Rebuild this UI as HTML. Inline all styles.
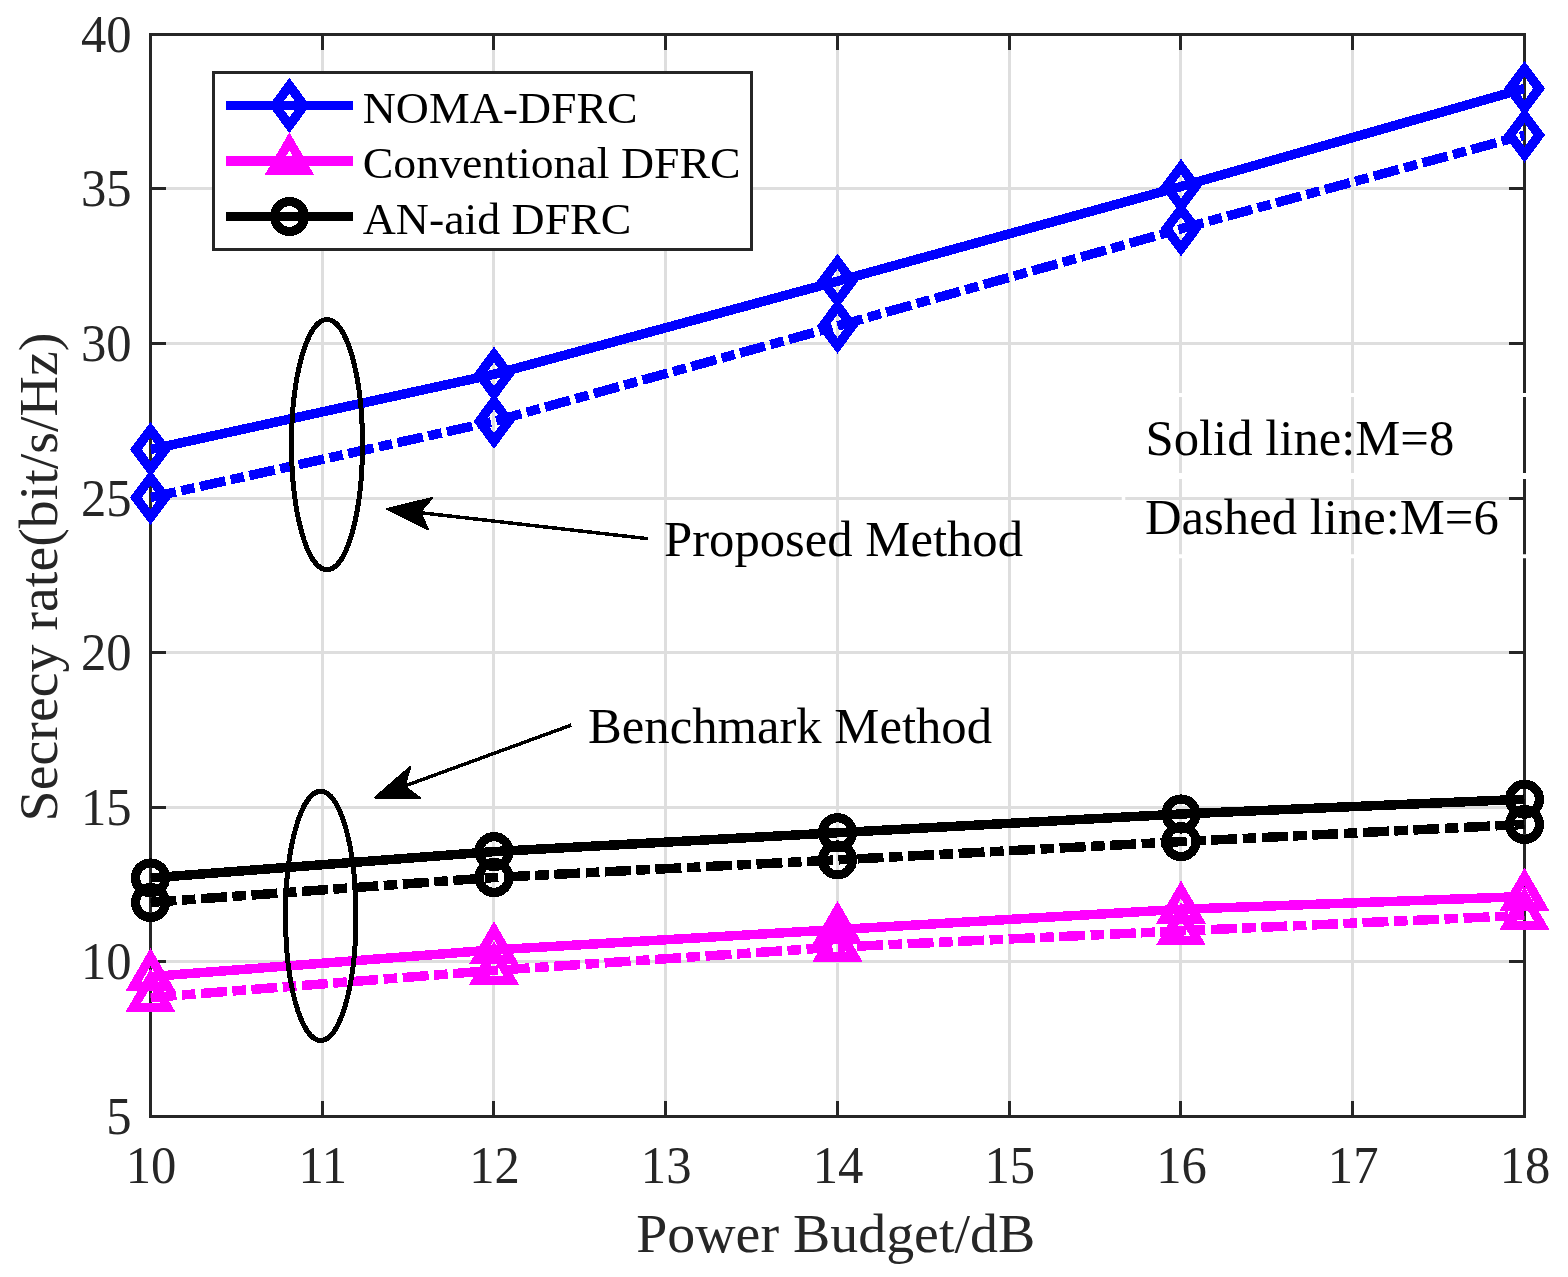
<!DOCTYPE html>
<html><head><meta charset="utf-8"><title>Secrecy rate vs Power Budget</title>
<style>html,body{margin:0;padding:0;background:#fff}svg{display:block}text{font-family:"Liberation Serif",serif}</style></head>
<body>
<svg width="1568" height="1277" viewBox="0 0 1568 1277">
<rect width="1568" height="1277" fill="#fff"/>
<path d="M322.5 34.5 V1116.5 M493.5 34.5 V1116.5 M665.5 34.5 V1116.5 M837.5 34.5 V1116.5 M1009.5 34.5 V1116.5 M1180.5 34.5 V1116.5 M1352.5 34.5 V1116.5 M150.5 961.5 H1524.5 M150.5 807.5 H1524.5 M150.5 652.5 H1524.5 M150.5 498.5 H1524.5 M150.5 343.5 H1524.5 M150.5 188.5 H1524.5" stroke="#dedede" stroke-width="3" fill="none"/>
<path d="M322.5 1116.5 v-15.5 M322.5 34.5 v15.5 M493.5 1116.5 v-15.5 M493.5 34.5 v15.5 M665.5 1116.5 v-15.5 M665.5 34.5 v15.5 M837.5 1116.5 v-15.5 M837.5 34.5 v15.5 M1009.5 1116.5 v-15.5 M1009.5 34.5 v15.5 M1180.5 1116.5 v-15.5 M1180.5 34.5 v15.5 M1352.5 1116.5 v-15.5 M1352.5 34.5 v15.5 M150.5 961.5 h15.5 M1524.5 961.5 h-15.5 M150.5 807.5 h15.5 M1524.5 807.5 h-15.5 M150.5 652.5 h15.5 M1524.5 652.5 h-15.5 M150.5 498.5 h15.5 M1524.5 498.5 h-15.5 M150.5 343.5 h15.5 M1524.5 343.5 h-15.5 M150.5 188.5 h15.5 M1524.5 188.5 h-15.5" stroke="#262626" stroke-width="3" fill="none"/>
<rect x="150.5" y="34.5" width="1374.0" height="1082.0" fill="none" stroke="#262626" stroke-width="3"/>
<g fill="#262626" font-size="50.7">
<text transform="translate(151.0 1183.4) scale(1 1.025)" text-anchor="middle">10</text>
<text transform="translate(322.8 1183.4) scale(1 1.025)" text-anchor="middle">11</text>
<text transform="translate(494.5 1183.4) scale(1 1.025)" text-anchor="middle">12</text>
<text transform="translate(666.2 1183.4) scale(1 1.025)" text-anchor="middle">13</text>
<text transform="translate(838.0 1183.4) scale(1 1.025)" text-anchor="middle">14</text>
<text transform="translate(1009.8 1183.4) scale(1 1.025)" text-anchor="middle">15</text>
<text transform="translate(1181.5 1183.4) scale(1 1.025)" text-anchor="middle">16</text>
<text transform="translate(1353.2 1183.4) scale(1 1.025)" text-anchor="middle">17</text>
<text transform="translate(1525.0 1183.4) scale(1 1.025)" text-anchor="middle">18</text>
<text transform="translate(131.6 1134.1) scale(1 1.025)" text-anchor="end">5</text>
<text transform="translate(131.6 979.1) scale(1 1.025)" text-anchor="end">10</text>
<text transform="translate(131.6 825.1) scale(1 1.025)" text-anchor="end">15</text>
<text transform="translate(131.6 670.1) scale(1 1.025)" text-anchor="end">20</text>
<text transform="translate(131.6 516.1) scale(1 1.025)" text-anchor="end">25</text>
<text transform="translate(131.6 361.1) scale(1 1.025)" text-anchor="end">30</text>
<text transform="translate(131.6 206.1) scale(1 1.025)" text-anchor="end">35</text>
<text transform="translate(131.6 52.1) scale(1 1.025)" text-anchor="end">40</text>
</g>
<text x="835.7" y="1252.2" font-size="55.9" fill="#262626" text-anchor="middle">Power Budget/dB</text>
<text transform="translate(56.5 577.0) rotate(-90)" font-size="55.9" fill="#262626" text-anchor="middle">Secrecy rate(bit/s/Hz)</text>
<g shape-rendering="crispEdges">
<defs><clipPath id="c"><rect x="150.5" y="34.5" width="1374.0" height="1082.0"/></clipPath></defs>
<polyline clip-path="url(#c)" points="150.5,449.5 494.0,374.3 837.5,281.2 1181.0,186.5 1524.5,88.5" fill="none" stroke="#0000ff" stroke-width="9.5" stroke-linejoin="round"/>
<path d="M150.5 429.8 L165.1 449.5 L150.5 469.2 L135.9 449.5 Z" fill="none" stroke="#0000ff" stroke-width="9.5" stroke-linejoin="miter"/>
<path d="M494.0 354.6 L508.6 374.3 L494.0 394.0 L479.4 374.3 Z" fill="none" stroke="#0000ff" stroke-width="9.5" stroke-linejoin="miter"/>
<path d="M837.5 261.5 L852.1 281.2 L837.5 300.9 L822.9 281.2 Z" fill="none" stroke="#0000ff" stroke-width="9.5" stroke-linejoin="miter"/>
<path d="M1181.0 166.8 L1195.6 186.5 L1181.0 206.2 L1166.4 186.5 Z" fill="none" stroke="#0000ff" stroke-width="9.5" stroke-linejoin="miter"/>
<path d="M1524.5 68.8 L1539.1 88.5 L1524.5 108.2 L1509.9 88.5 Z" fill="none" stroke="#0000ff" stroke-width="9.5" stroke-linejoin="miter"/>
<polyline clip-path="url(#c)" points="150.5,497.5 494.0,421.3 837.5,326.0 1181.0,228.8 1524.5,135.1" fill="none" stroke="#0000ff" stroke-width="9.5" stroke-linejoin="round" stroke-dasharray="26 5.5 13.6 5.5"/>
<path d="M150.5 477.8 L165.1 497.5 L150.5 517.2 L135.9 497.5 Z" fill="none" stroke="#0000ff" stroke-width="9.5" stroke-linejoin="miter"/>
<path d="M494.0 401.6 L508.6 421.3 L494.0 441.0 L479.4 421.3 Z" fill="none" stroke="#0000ff" stroke-width="9.5" stroke-linejoin="miter"/>
<path d="M837.5 306.3 L852.1 326.0 L837.5 345.7 L822.9 326.0 Z" fill="none" stroke="#0000ff" stroke-width="9.5" stroke-linejoin="miter"/>
<path d="M1181.0 209.1 L1195.6 228.8 L1181.0 248.5 L1166.4 228.8 Z" fill="none" stroke="#0000ff" stroke-width="9.5" stroke-linejoin="miter"/>
<path d="M1524.5 115.4 L1539.1 135.1 L1524.5 154.8 L1509.9 135.1 Z" fill="none" stroke="#0000ff" stroke-width="9.5" stroke-linejoin="miter"/>
<polyline clip-path="url(#c)" points="150.5,976.6 494.0,949.9 837.5,929.6 1181.0,909.3 1524.5,896.5" fill="none" stroke="#ff00ff" stroke-width="9.5" stroke-linejoin="round"/>
<path d="M150.5 956.9 L167.6 986.5 L133.4 986.5 Z" fill="none" stroke="#ff00ff" stroke-width="9.1" stroke-linejoin="miter" stroke-miterlimit="10"/>
<path d="M494.0 930.2 L511.1 959.8 L476.9 959.8 Z" fill="none" stroke="#ff00ff" stroke-width="9.1" stroke-linejoin="miter" stroke-miterlimit="10"/>
<path d="M837.5 909.9 L854.6 939.5 L820.4 939.5 Z" fill="none" stroke="#ff00ff" stroke-width="9.1" stroke-linejoin="miter" stroke-miterlimit="10"/>
<path d="M1181.0 889.6 L1198.1 919.1 L1163.9 919.1 Z" fill="none" stroke="#ff00ff" stroke-width="9.1" stroke-linejoin="miter" stroke-miterlimit="10"/>
<path d="M1524.5 876.8 L1541.6 906.4 L1507.4 906.4 Z" fill="none" stroke="#ff00ff" stroke-width="9.1" stroke-linejoin="miter" stroke-miterlimit="10"/>
<polyline clip-path="url(#c)" points="150.5,997.5 494.0,970.4 837.5,947.1 1181.0,930.9 1524.5,915.4" fill="none" stroke="#ff00ff" stroke-width="9.5" stroke-linejoin="round" stroke-dasharray="26 5.5 13.6 5.5"/>
<path d="M150.5 977.8 L167.6 1007.4 L133.4 1007.4 Z" fill="none" stroke="#ff00ff" stroke-width="9.1" stroke-linejoin="miter" stroke-miterlimit="10"/>
<path d="M494.0 950.7 L511.1 980.2 L476.9 980.2 Z" fill="none" stroke="#ff00ff" stroke-width="9.1" stroke-linejoin="miter" stroke-miterlimit="10"/>
<path d="M837.5 927.4 L854.6 957.0 L820.4 957.0 Z" fill="none" stroke="#ff00ff" stroke-width="9.1" stroke-linejoin="miter" stroke-miterlimit="10"/>
<path d="M1181.0 911.2 L1198.1 940.8 L1163.9 940.8 Z" fill="none" stroke="#ff00ff" stroke-width="9.1" stroke-linejoin="miter" stroke-miterlimit="10"/>
<path d="M1524.5 895.7 L1541.6 925.2 L1507.4 925.2 Z" fill="none" stroke="#ff00ff" stroke-width="9.1" stroke-linejoin="miter" stroke-miterlimit="10"/>
<polyline clip-path="url(#c)" points="150.5,877.9 494.0,851.6 837.5,832.7 1181.0,814.0 1524.5,799.2" fill="none" stroke="#000000" stroke-width="9.5" stroke-linejoin="round"/>
<circle cx="150.5" cy="877.9" r="15" fill="none" stroke="#000000" stroke-width="9.1"/>
<circle cx="494.0" cy="851.6" r="15" fill="none" stroke="#000000" stroke-width="9.1"/>
<circle cx="837.5" cy="832.7" r="15" fill="none" stroke="#000000" stroke-width="9.1"/>
<circle cx="1181.0" cy="814.0" r="15" fill="none" stroke="#000000" stroke-width="9.1"/>
<circle cx="1524.5" cy="799.2" r="15" fill="none" stroke="#000000" stroke-width="9.1"/>
<polyline clip-path="url(#c)" points="150.5,902.4 494.0,877.5 837.5,859.9 1181.0,841.6 1524.5,824.4" fill="none" stroke="#000000" stroke-width="9.5" stroke-linejoin="round" stroke-dasharray="26 5.5 13.6 5.5"/>
<circle cx="150.5" cy="902.4" r="15" fill="none" stroke="#000000" stroke-width="9.1"/>
<circle cx="494.0" cy="877.5" r="15" fill="none" stroke="#000000" stroke-width="9.1"/>
<circle cx="837.5" cy="859.9" r="15" fill="none" stroke="#000000" stroke-width="9.1"/>
<circle cx="1181.0" cy="841.6" r="15" fill="none" stroke="#000000" stroke-width="9.1"/>
<circle cx="1524.5" cy="824.4" r="15" fill="none" stroke="#000000" stroke-width="9.1"/>
<rect x="213.5" y="72.5" width="538.0" height="177.0" fill="#fff" stroke="#262626" stroke-width="3"/>
<path d="M226 105.5 H353" stroke="#0000ff" stroke-width="9.5"/>
<path d="M289.4 85.8 L304.0 105.5 L289.4 125.2 L274.8 105.5 Z" fill="none" stroke="#0000ff" stroke-width="9.5" stroke-linejoin="miter"/>
<text transform="translate(362.8 122.9) scale(1 0.975)" font-size="45.8" fill="#000">NOMA-DFRC</text>
<path d="M226 161 H353" stroke="#ff00ff" stroke-width="9.5"/>
<path d="M289.4 141.3 L306.5 170.8 L272.3 170.8 Z" fill="none" stroke="#ff00ff" stroke-width="9.1" stroke-linejoin="miter" stroke-miterlimit="10"/>
<text transform="translate(362.8 178.4) scale(1 0.975)" font-size="45.8" fill="#000">Conventional DFRC</text>
<path d="M226 216.5 H353" stroke="#000000" stroke-width="9.5"/>
<circle cx="289.4" cy="216.5" r="15" fill="none" stroke="#000000" stroke-width="9.1"/>
<text transform="translate(362.8 233.9) scale(1 0.975)" font-size="45.8" fill="#000">AN-aid DFRC</text>
<ellipse cx="327.0" cy="444.65" rx="35.5" ry="125.15" fill="none" stroke="#000" stroke-width="5"/>
<ellipse cx="320.75" cy="915.9" rx="35.25" ry="124.6" fill="none" stroke="#000" stroke-width="5"/>
<path d="M648 538.7 L419.6 512.6" stroke="#000" stroke-width="3.5" fill="none"/>
<path d="M387 509 L432 498 L420 512.3 L428.3 529.5 Z" fill="#000" stroke="#000" stroke-width="2" stroke-linejoin="round"/>
<path d="M571.2 725.1 L404.2 786.2" stroke="#000" stroke-width="3.5" fill="none"/>
<path d="M375 797.6 L410.3 766.8 L404.5 786.2 L420 798 Z" fill="#000" stroke="#000" stroke-width="2" stroke-linejoin="round"/>
</g>
<g font-size="50.7" fill="#000">
<text x="664" y="556">Proposed Method</text>
<text x="588" y="742.5">Benchmark Method</text>
<text x="1145.5" y="454.6">Solid line:M=8</text>
<text x="1145" y="533.7">Dashed line:M=6</text>
</g>
<g stroke="#fff" fill="none"><path d="M1122 395 H1568 M1122 556.2 H1568" stroke-width="4"/><path d="M1122 476 H1568" stroke-width="6"/><path d="M1123.5 393 V558.2" stroke-width="3.5"/></g>
</svg>
</body></html>
